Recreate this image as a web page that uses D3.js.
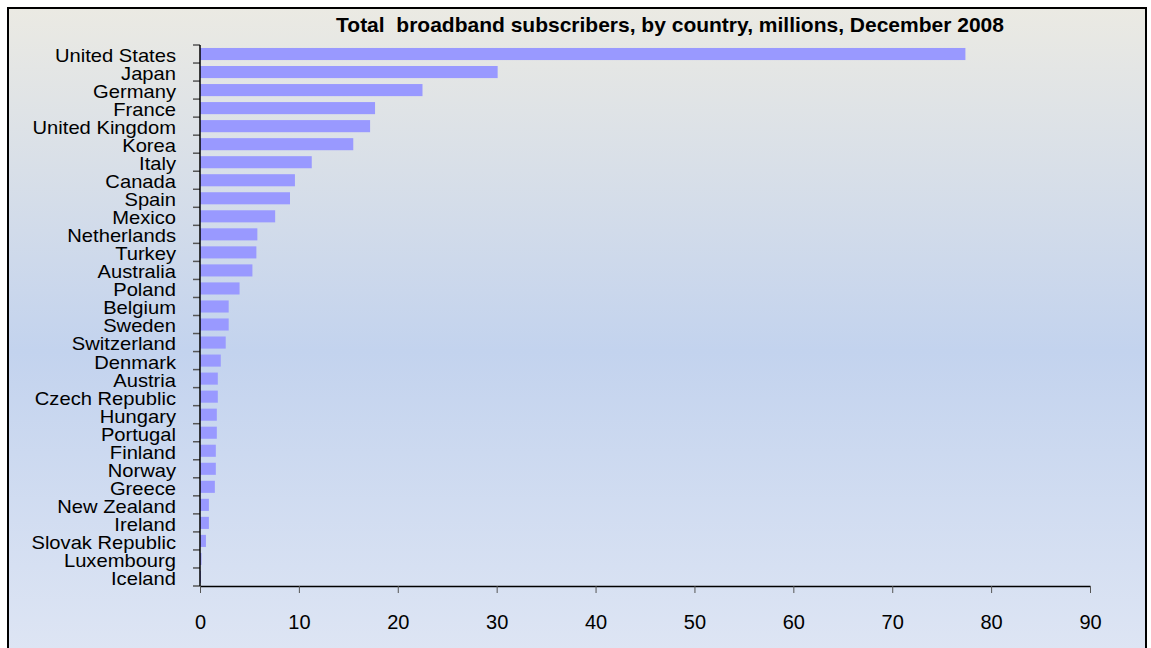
<!DOCTYPE html>
<html>
<head>
<meta charset="utf-8">
<script src="https://cdn.jsdelivr.net/npm/d3@7"></script>
<style>
  body { margin: 0; background: #fff; }
  svg { display: block; font-family: Arial, "Liberation Sans", sans-serif; }
</style>
</head>
<body>
<svg id="chart"></svg>
<script>
// data
var countries = ["United States", "Japan", "Germany", "France", "United Kingdom", "Korea",
  "Italy", "Canada", "Spain", "Mexico", "Netherlands", "Turkey", "Australia", "Poland",
  "Belgium", "Sweden", "Switzerland", "Denmark", "Austria", "Czech Republic", "Hungary",
  "Portugal", "Finland", "Norway", "Greece", "New Zealand", "Ireland", "Slovak Republic",
  "Luxembourg", "Iceland"];
var subscribers = [77.4, 30.1, 22.5, 17.7, 17.2, 15.5, 11.3, 9.6, 9.1, 7.6, 5.8, 5.7, 5.3,
  4.0, 2.9, 2.9, 2.6, 2.1, 1.8, 1.8, 1.7, 1.7, 1.6, 1.6, 1.5, 0.9, 0.9, 0.6, 0.15, 0.1];
var xTicks = [0, 10, 20, 30, 40, 50, 60, 70, 80, 90];
var title = "Total  broadband subscribers, by country, millions, December 2008";

var W = 1151, H = 648;
var svg = d3.select("#chart").attr("width", W).attr("height", H);

// background panel with vertical gradient
var grad = svg.append("defs").append("linearGradient")
  .attr("id", "bg").attr("x1", 0).attr("y1", 0).attr("x2", 0).attr("y2", 1);
grad.append("stop").attr("offset", "0%").attr("stop-color", "#ebeae3");
grad.append("stop").attr("offset", "52%").attr("stop-color", "#c3d3ee");
grad.append("stop").attr("offset", "100%").attr("stop-color", "#dfe6f4");

svg.append("rect")
  .attr("x", 8).attr("y", 8).attr("width", 1138).attr("height", 660)
  .attr("fill", "url(#bg)").attr("stroke", "#000").attr("stroke-width", 2);

var margin = { top: 45, left: 200 };
var width = 890, height = 541;
var g = svg.append("g").attr("transform", "translate(" + margin.left + "," + margin.top + ")");

var x = d3.scaleLinear().domain([0, 90]).range([0, width]);
var y = d3.scaleBand().domain(countries).range([0, height]).paddingInner(0.33).paddingOuter(0.165);

g.selectAll(".bar")
  .data(countries)
  .enter()
  .append("rect")
  .attr("class", "bar")
  .attr("x", 0)
  .attr("y", d => y(d))
  .attr("width", (d, i) => x(subscribers[i]))
  .attr("height", y.bandwidth())
  .attr("fill", "#9999ff");

// bottom axis
var xAxis = g.append("g")
  .attr("transform", "translate(0," + height + ")")
  .call(d3.axisBottom(x).tickValues(xTicks).tickSize(7).tickSizeOuter(0).tickPadding(24));
xAxis.select(".domain").attr("stroke", "#000").attr("stroke-width", 1.5);
xAxis.selectAll(".tick line").attr("stroke", "#555");
xAxis.selectAll("text").attr("font-size", 20).attr("fill", "#000").attr("dy", "0.6em")
  .attr("font-family", "Arial, 'Liberation Sans', sans-serif");

// left axis: labels centred on bands (slightly stretched like the original), ticks on band boundaries
var yAxis = g.append("g")
  .call(d3.axisLeft(y).tickSize(0).tickPadding(24));
yAxis.select(".domain").remove();
yAxis.selectAll("text")
  .attr("x", 0)
  .attr("transform", "translate(-24,0) scale(1.12,1)")
  .attr("font-size", 18).attr("fill", "#000").attr("dy", "0.44em")
  .attr("font-family", "Arial, 'Liberation Sans', sans-serif");

var bounds = d3.range(countries.length + 1).map(i => i * y.step());
g.selectAll(".ytick")
  .data(bounds)
  .enter()
  .append("line")
  .attr("x1", -7).attr("x2", 0)
  .attr("y1", d => d).attr("y2", d => d)
  .attr("stroke", "#555").attr("stroke-width", 1.5);
g.append("line")
  .attr("x1", 0).attr("x2", 0).attr("y1", 0).attr("y2", height)
  .attr("stroke", "#000").attr("stroke-width", 1.5);

svg.append("text")
  .attr("x", 670).attr("y", 32)
  .attr("text-anchor", "middle")
  .attr("font-size", 21).attr("font-weight", "bold")
  .style("white-space", "pre")
  .text(title);
</script>
</body>
</html>
